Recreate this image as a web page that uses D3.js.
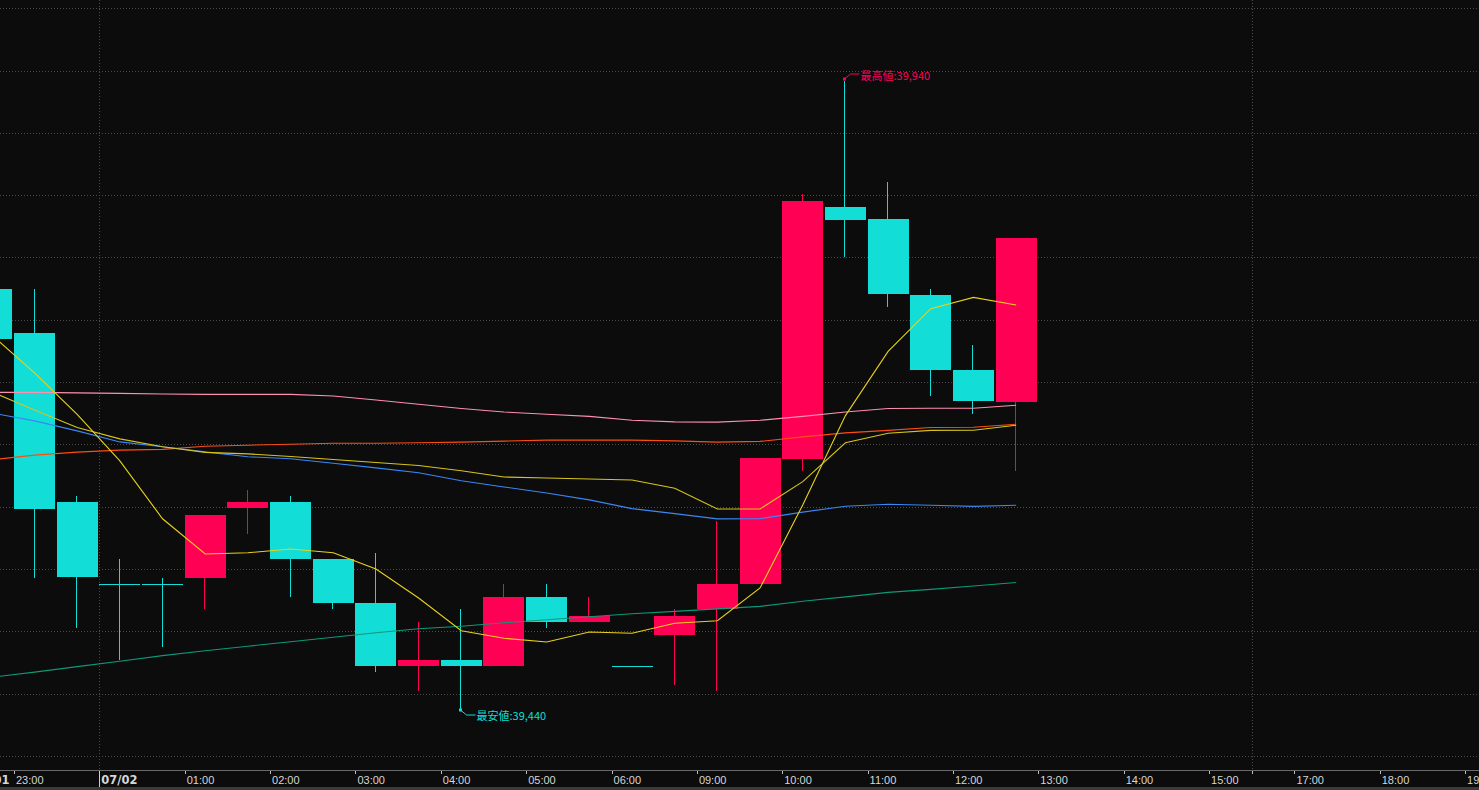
<!DOCTYPE html>
<html><head><meta charset="utf-8">
<script src="https://cdn.jsdelivr.net/npm/d3@7"></script>
<style>
html,body{margin:0;padding:0;background:#0c0c0c;overflow:hidden;}
svg{display:block;}
</style></head>
<body>
<svg id="chart" width="1479" height="790"></svg>
<script>
// ---- data (30-minute bars) ----
const slots = ["22:30","23:00","23:30","00:00","00:30","01:00","01:30","02:00","02:30","03:00","03:30","04:00","04:30","05:00","05:30","06:00","08:45","09:00","09:30","10:00","10:30","11:00","11:30","12:00","12:30","13:00","13:30","14:00","14:30","15:00","15:15","17:00","17:30","18:00","18:30","19:00","19:30"];
const candleTimes = slots.slice(0, 25);
const open  = [39775,39740,39605,39540,39540,39545,39600,39605,39560,39525,39475,39480,39475,39530,39510,39475,39500,39520,39540,39640,39840,39830,39770,39710,39685];
const high  = [39775,39775,39610,39560,39545,39595,39615,39610,39560,39565,39510,39520,39540,39540,39530,39475,39520,39590,39640,39850,39940,39860,39775,39730,39815];
const low   = [39735,39545,39505,39480,39490,39520,39580,39530,39520,39470,39455,39440,39475,39505,39510,39475,39460,39455,39540,39630,39800,39760,39690,39675,39630];
const close = [39735,39600,39545,39540,39540,39595,39605,39560,39525,39475,39480,39475,39530,39510,39515,39475,39515,39540,39640,39845,39830,39770,39710,39685,39815];

const maFast   = [39738,39708,39675,39638,39592,39564,39565,39568,39565,39552,39529,39503,39497,39494,39502,39501,39509,39511,39537,39603,39674,39725,39759,39768,39762];
const maYellow = [39692.8,39678.5,39664.6,39655.5,39649.2,39644.8,39643.6,39641.5,39639.1,39636.7,39634.4,39630.2,39625.2,39624.4,39623.6,39622.8,39616.3,39599.8,39599.8,39621.5,39652.4,39660.0,39662.3,39662.4,39666.4];
const maBlue   = [39676.1,39669.8,39661.9,39653.1,39649.2,39645.2,39641.3,39639.7,39636.1,39632.5,39628.6,39622.2,39617.3,39612.5,39607.0,39600.1,39596.1,39591.9,39592.1,39597.3,39602.0,39603.5,39602.7,39601.9,39602.7];
const maPink   = [39692.5,39692.5,39692.1,39691.7,39691.2,39690.9,39690.9,39690.9,39689.6,39686.4,39683.0,39679.7,39676.9,39675.1,39673.4,39670.3,39669.0,39668.8,39670.3,39673.4,39676.9,39679.7,39679.9,39679.9,39682.2];
const maOrange = [39638.9,39642.6,39645.0,39646.6,39647.2,39649.6,39650.5,39651.3,39652.1,39652.1,39652.4,39652.9,39653.7,39654.5,39654.5,39654.5,39653.9,39652.9,39653.5,39657.1,39660.3,39662.3,39664.6,39664.8,39667.2];
const maTeal   = [39466.1,39470.1,39474.5,39478.8,39483.2,39487.1,39490.7,39494.3,39497.8,39501.4,39504.6,39506.6,39509.3,39511.7,39514.1,39516.5,39518.4,39520.4,39522.4,39526.4,39529.9,39533.5,39535.9,39538.6,39541.4];

const gridPrices = [39997.9,39948.3,39898.8,39849.3,39799.8,39750.3,39700.7,39651.2,39601.7,39552.2,39502.7,39453.1,39403.6];
const sessionBreaks = ["00:00","15:15"];
const dateLabels = {"22:30":"07/01","00:00":"07/02"};
const highLabel = "最高値";
const lowLabel = "最安値";

// ---- styling ----
const UP = "#ff0055", DOWN = "#12ddd7";
const W = 1479, H = 790, axisY = 770;
const step = 42.68, x0 = 14 - step;

const svg = d3.select("#chart");
svg.append("rect").attr("width", W).attr("height", H).attr("fill", "#0c0c0c");

const x = d3.scaleBand().domain(slots).range([x0, x0 + step * slots.length]).paddingInner(0).paddingOuter(0);
const y = d3.scaleLinear().domain([39440, 39940]).range([710, 81]);
const cx = t => Math.floor(x(t) + 20) + 0.5;

// grid
const grid = svg.append("g");
grid.selectAll("line.h").data(gridPrices).join("line")
  .attr("x1", 0).attr("x2", W)
  .attr("y1", d => Math.round(y(d)) + 0.5).attr("y2", d => Math.round(y(d)) + 0.5)
  .attr("stroke", "#4a4a4a").attr("stroke-width", 1).attr("stroke-dasharray", "1,2");
grid.selectAll("line.v").data(sessionBreaks).join("line")
  .attr("x1", d => Math.round(x(d)) + 0.5).attr("x2", d => Math.round(x(d)) + 0.5)
  .attr("y1", 0).attr("y2", axisY)
  .attr("stroke", "#4a4a4a").attr("stroke-width", 1).attr("stroke-dasharray", "1,2");

// candles
const bars = candleTimes.map((t, i) => ({t, o: open[i], h: high[i], l: low[i], c: close[i]}));
const cg = svg.append("g");
cg.selectAll("line.wick").data(bars).join("line")
  .attr("x1", d => cx(d.t)).attr("x2", d => cx(d.t))
  .attr("y1", d => y(d.h)).attr("y2", d => y(d.l))
  .attr("stroke", d => d.c > d.o ? UP : DOWN).attr("stroke-width", 1)
  .attr("shape-rendering", "crispEdges");
cg.selectAll("rect.body").data(bars).join("rect")
  .attr("x", d => Math.round(x(d.t))).attr("width", 41)
  .attr("y", d => Math.round(y(Math.max(d.o, d.c))))
  .attr("height", d => Math.max(1, Math.round(Math.abs(y(d.o) - y(d.c)))))
  .attr("fill", d => d.c > d.o ? UP : DOWN)
  .attr("shape-rendering", "crispEdges");

// moving average lines
const lines = [
  {v: maTeal, c: "#0b9a78"},
  {v: maPink, c: "#ff8fae"},
  {v: maOrange, c: "#ff4d12"},
  {v: maBlue, c: "#3b86f5"},
  {v: maYellow, c: "#d8c41c"},
  {v: maFast, c: "#e8d21a"}
];
const lineGen = d3.line().x((d, i) => x(candleTimes[i]) + 20.5).y(d => y(d));
svg.append("g").selectAll("path").data(lines).join("path")
  .attr("d", d => lineGen(d.v)).attr("fill", "none")
  .attr("stroke", d => d.c).attr("stroke-width", 1.1);

// high / low annotations
const hi = d3.maxIndex(high), lo = d3.minIndex(low);
const fmt = d3.format(",");
function annotate(i, price, label, color, dir) {
  const px = cx(candleTimes[i]), py = y(price) + (dir < 0 ? -2 : 0);
  const g = svg.append("g");
  g.append("rect").attr("x", px - 1.5).attr("y", py - 1.5).attr("width", 3).attr("height", 3).attr("fill", color);
  const ey = py + dir * 5;
  g.append("path").attr("d", `M${px},${py} L${px + 6},${ey} L${px + 15},${ey}`)
    .attr("fill", "none").attr("stroke", color).attr("stroke-width", 1);
  g.append("text").attr("x", px + 16).attr("y", ey + (dir < 0 ? 6 : 5))
    .attr("fill", color).attr("font-family", "'Noto Sans CJK JP', 'Noto Sans', sans-serif")
    .attr("font-size", 11).text(`${label}:${fmt(price)}`);
}
annotate(hi, high[hi], highLabel, UP, -1);
annotate(lo, low[lo], lowLabel, DOWN, 1);

// x axis
const ax = svg.append("g");
ax.append("line").attr("x1", 0).attr("x2", W).attr("y1", axisY + 0.5).attr("y2", axisY + 0.5)
  .attr("stroke", "#6a6a6a");
ax.append("rect").attr("x", 0).attr("y", 787).attr("width", W).attr("height", 3).attr("fill", "#3a3a3a");
const labeled = slots.filter(t => t.endsWith(":00") || dateLabels[t]);
ax.selectAll("line.tick").data(labeled.concat(["15:15"])).join("line")
  .attr("x1", d => Math.round(x(d)) + 0.5).attr("x2", d => Math.round(x(d)) + 0.5)
  .attr("y1", axisY + 1).attr("y2", d => d === "00:00" ? 787 : axisY + 4)
  .attr("stroke", d => d === "00:00" ? "#cfcfcf" : "#bdbdbd");
ax.selectAll("text").data(labeled).join("text")
  .attr("x", d => x(d) + 2).attr("y", 784)
  .attr("fill", "#d6d6d6")
  .attr("font-family", d => dateLabels[d] ? "'DejaVu Sans', sans-serif" : "'Liberation Sans', Arial, sans-serif")
  .attr("font-weight", d => dateLabels[d] ? "bold" : "normal")
  .attr("font-size", d => dateLabels[d] ? 11.5 : 11)
  .text(d => dateLabels[d] || d);
</script>
</body></html>
